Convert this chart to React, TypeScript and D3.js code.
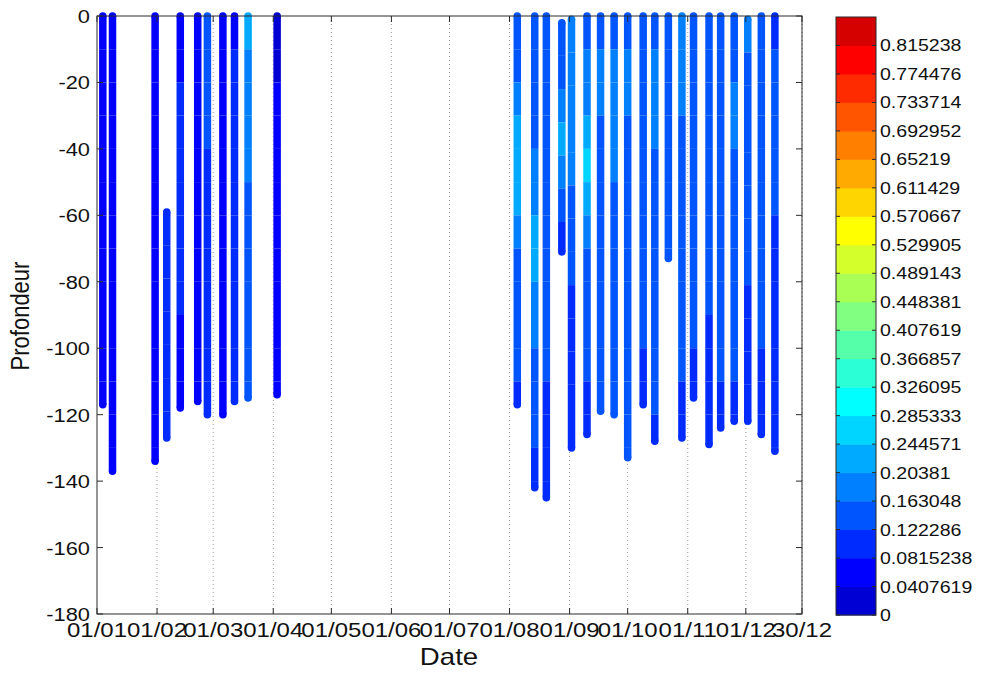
import React, { useEffect, useRef } from 'react';
import * as d3 from 'd3';

// profile dates (dd/mm, leap year 2012 fits the tick spacing)
const profileDates = [
  '2012-01-04', '2012-01-09', '2012-01-31', '2012-02-06', '2012-02-13', '2012-02-22',
  '2012-02-27', '2012-03-06', '2012-03-12', '2012-03-19', '2012-04-03',
  '2012-08-05', '2012-08-14', '2012-08-20', '2012-08-28', '2012-09-02', '2012-09-10',
  '2012-09-17', '2012-09-24', '2012-10-01', '2012-10-09', '2012-10-15', '2012-10-22',
  '2012-10-29', '2012-11-04', '2012-11-12', '2012-11-18', '2012-11-25', '2012-12-02',
  '2012-12-09', '2012-12-16',
];

// first and last depth of each profile (m)
const profileTop = [
  0, 0, 0, -59, 0, 0, 0, 0, 0, 0, 0,
  0, 0, 0, -2, -1, 0, 0, 0, 0, 0, 0, 0, 0, 0, 0, 0, 0, -1, 0, 0,
];
const profileBottom = [
  -117, -137, -134, -127, -118, -116, -120, -120, -116, -115, -114,
  -117, -142, -145, -71, -130, -126, -119, -120, -133, -117, -128, -73,
  -127, -115, -129, -124, -122, -122, -126, -131,
];

// values per 10 m bin, from the top of each profile downwards
const profileValues = [
  [0.08, 0.08, 0.08, 0.08, 0.08, 0.08, 0.08, 0.08, 0.08, 0.08, 0.08, 0.08],
  [0.08, 0.08, 0.08, 0.08, 0.08, 0.08, 0.08, 0.08, 0.08, 0.08, 0.08, 0.08, 0.08, 0.08],
  [0.07, 0.07, 0.07, 0.07, 0.07, 0.07, 0.07, 0.07, 0.07, 0.07, 0.07, 0.07, 0.07, 0.07],
  [0.09, 0.1, 0.1, 0.1, 0.1, 0.11, 0.11],
  [0.08, 0.08, 0.09, 0.1, 0.1, 0.09, 0.09, 0.09, 0.09, 0.08, 0.08, 0.08],
  [0.06, 0.07, 0.08, 0.08, 0.08, 0.08, 0.08, 0.08, 0.08, 0.08, 0.08, 0.08],
  [0.14, 0.13, 0.13, 0.13, 0.12, 0.12, 0.12, 0.12, 0.12, 0.12, 0.12, 0.12],
  [0.05, 0.06, 0.06, 0.06, 0.06, 0.06, 0.06, 0.06, 0.06, 0.06, 0.06, 0.06],
  [0.08, 0.09, 0.09, 0.09, 0.09, 0.1, 0.1, 0.1, 0.1, 0.1, 0.1, 0.1],
  [0.21, 0.2, 0.19, 0.18, 0.17, 0.16, 0.16, 0.15, 0.15, 0.14, 0.14, 0.13],
  [0.04, 0.04, 0.05, 0.05, 0.05, 0.05, 0.05, 0.05, 0.05, 0.05, 0.05, 0.05],
  [0.14, 0.16, 0.18, 0.21, 0.22, 0.21, 0.18, 0.16, 0.15, 0.14, 0.13, 0.11],
  [0.14, 0.15, 0.15, 0.16, 0.17, 0.18, 0.21, 0.23, 0.19, 0.17, 0.15, 0.14, 0.13, 0.12, 0.11],
  [0.14, 0.14, 0.15, 0.15, 0.15, 0.14, 0.14, 0.14, 0.14, 0.14, 0.13, 0.12, 0.12, 0.11, 0.1],
  [0.14, 0.16, 0.19, 0.21, 0.19, 0.16, 0.12],
  [0.18, 0.19, 0.19, 0.2, 0.18, 0.16, 0.14, 0.13, 0.12, 0.11, 0.11, 0.1, 0.1],
  [0.15, 0.17, 0.19, 0.21, 0.25, 0.22, 0.18, 0.16, 0.15, 0.14, 0.13, 0.12, 0.11],
  [0.16, 0.18, 0.17, 0.15, 0.14, 0.14, 0.14, 0.14, 0.14, 0.14, 0.13, 0.13],
  [0.16, 0.18, 0.18, 0.18, 0.17, 0.16, 0.16, 0.15, 0.15, 0.14, 0.14, 0.14],
  [0.16, 0.17, 0.17, 0.16, 0.16, 0.15, 0.15, 0.15, 0.14, 0.14, 0.14, 0.13, 0.13, 0.13],
  [0.14, 0.15, 0.16, 0.15, 0.14, 0.14, 0.14, 0.14, 0.13, 0.13, 0.12, 0.12],
  [0.16, 0.17, 0.17, 0.17, 0.16, 0.15, 0.15, 0.15, 0.15, 0.14, 0.14, 0.13, 0.12],
  [0.13, 0.15, 0.16, 0.16, 0.15, 0.14, 0.13, 0.13],
  [0.17, 0.17, 0.17, 0.16, 0.16, 0.15, 0.14, 0.14, 0.14, 0.13, 0.13, 0.12, 0.12],
  [0.13, 0.15, 0.16, 0.16, 0.15, 0.14, 0.14, 0.14, 0.13, 0.13, 0.12, 0.12],
  [0.13, 0.14, 0.14, 0.14, 0.14, 0.13, 0.13, 0.13, 0.13, 0.12, 0.12, 0.11, 0.11],
  [0.14, 0.15, 0.16, 0.16, 0.15, 0.15, 0.14, 0.14, 0.14, 0.13, 0.13, 0.12, 0.12],
  [0.14, 0.16, 0.17, 0.17, 0.16, 0.16, 0.15, 0.14, 0.14, 0.13, 0.13, 0.12, 0.11],
  [0.17, 0.16, 0.16, 0.15, 0.15, 0.14, 0.13, 0.13, 0.12, 0.12, 0.11, 0.11, 0.11],
  [0.14, 0.15, 0.16, 0.16, 0.15, 0.14, 0.14, 0.13, 0.13, 0.13, 0.12, 0.12, 0.12],
  [0.12, 0.13, 0.13, 0.13, 0.13, 0.13, 0.12, 0.12, 0.12, 0.12, 0.11, 0.11, 0.11, 0.11],
];

const dateTicks = [
  '2012-01-01', '2012-02-01', '2012-03-01', '2012-04-01', '2012-05-01', '2012-06-01',
  '2012-07-01', '2012-08-01', '2012-09-01', '2012-10-01', '2012-11-01', '2012-12-01',
  '2012-12-30',
];
const depthTicks = [0, -20, -40, -60, -80, -100, -120, -140, -160, -180];
const colorTickLabels = [
  '0', '0.0407619', '0.0815238', '0.122286', '0.163048', '0.20381', '0.244571',
  '0.285333', '0.326095', '0.366857', '0.407619', '0.448381', '0.489143', '0.529905',
  '0.570667', '0.611429', '0.65219', '0.692952', '0.733714', '0.774476', '0.815238',
];

// matlab jet(n)
const jet = (n: number) => {
  const m = Math.ceil(n / 4);
  const u = [
    ...d3.range(1, m + 1).map(i => i / m),
    ...Array(m - 1).fill(1),
    ...d3.range(m, 0, -1).map(i => i / m),
  ];
  const g0 = Math.ceil(m / 2) - (n % 4 === 1 ? 1 : 0);
  const R = Array(n).fill(0), G = Array(n).fill(0), B = Array(n).fill(0);
  u.forEach((v, k) => {
    const gi = g0 + k + 1;
    if (gi >= 1 && gi <= n) G[gi - 1] = v;
    if (gi + m >= 1 && gi + m <= n) R[gi + m - 1] = v;
    if (gi - m >= 1 && gi - m <= n) B[gi - m - 1] = v;
  });
  return d3.range(n).map(i => d3.rgb(R[i] * 255, G[i] * 255, B[i] * 255).formatHex());
};

const App: React.FC = () => {
  const svgRef = useRef<SVGSVGElement | null>(null);

  useEffect(() => {
    const svg = d3.select(svgRef.current);
    svg.selectAll('*').remove();
    const font = '"Liberation Sans", Arial, sans-serif';
    const axisColor = '#2a2a2a';

    const parse = d3.timeParse('%Y-%m-%d');
    const x = d3.scaleTime()
      .domain([parse('2012-01-01')!, parse('2012-12-30')!])
      .range([97, 802]);
    const y = d3.scaleLinear().domain([-180, 0]).range([614, 16]);

    const step = parseFloat(colorTickLabels[1]);
    const nBands = colorTickLabels.length;
    const colors = jet(nBands);
    const colorOf = (v: number) => colors[Math.min(nBands - 1, Math.floor(v / step))];

    // grid
    svg.append('g')
      .selectAll('line')
      .data(dateTicks.slice(1))
      .join('line')
      .attr('x1', d => x(parse(d)!))
      .attr('x2', d => x(parse(d)!))
      .attr('y1', y(0))
      .attr('y2', y(-180))
      .attr('stroke', '#9a9a9a')
      .attr('stroke-width', 1)
      .attr('stroke-dasharray', '1,3');

    // profiles
    const bars = svg.append('g');
    const w = 7.5;
    profileDates.forEach((d, p) => {
      const cx = x(parse(d)!);
      const top = profileTop[p];
      const bottom = profileBottom[p];
      const vals = profileValues[p];
      const nBins = Math.ceil((top - bottom) / 10);
      for (let i = 0; i < nBins; i++) {
        const v = vals[Math.min(i, vals.length - 1)];
        const d0 = top - i * 10;
        const d1 = Math.max(top - (i + 1) * 10, bottom);
        bars.append('line')
          .attr('x1', cx).attr('x2', cx)
          .attr('y1', y(d0)).attr('y2', y(d1))
          .attr('stroke', colorOf(v))
          .attr('stroke-width', w);
      }
      bars.append('circle')
        .attr('cx', cx).attr('cy', y(top)).attr('r', w / 2)
        .attr('fill', colorOf(vals[0]));
      bars.append('circle')
        .attr('cx', cx).attr('cy', y(bottom)).attr('r', w / 2)
        .attr('fill', colorOf(vals[vals.length - 1]));
    });

    // axes box
    svg.append('rect')
      .attr('x', 97).attr('y', 16)
      .attr('width', 802 - 97).attr('height', 614 - 16)
      .attr('fill', 'none')
      .attr('stroke', axisColor)
      .attr('stroke-width', 1);

    const tickLen = 6;
    const ticks = svg.append('g').attr('stroke', axisColor).attr('stroke-width', 1);
    dateTicks.forEach(d => {
      const tx = x(parse(d)!);
      ticks.append('line').attr('x1', tx).attr('x2', tx).attr('y1', 614).attr('y2', 614 - tickLen);
      ticks.append('line').attr('x1', tx).attr('x2', tx).attr('y1', 16).attr('y2', 16 + tickLen);
    });
    depthTicks.forEach(v => {
      const ty = y(v);
      ticks.append('line').attr('x1', 97).attr('x2', 97 + tickLen).attr('y1', ty).attr('y2', ty);
      ticks.append('line').attr('x1', 802).attr('x2', 802 - tickLen).attr('y1', ty).attr('y2', ty);
    });

    const fmt = d3.timeFormat('%d/%m');
    svg.append('g')
      .selectAll('text')
      .data(dateTicks)
      .join('text')
      .attr('transform', d => `translate(${x(parse(d)!)},637) scale(1.2,1)`)
      .attr('text-anchor', 'middle')
      .attr('font-family', font)
      .attr('font-size', 20)
      .attr('fill', '#111')
      .text(d => fmt(parse(d)!));

    svg.append('g')
      .selectAll('text')
      .data(depthTicks)
      .join('text')
      .attr('transform', d => `translate(90,${y(d) + 7}) scale(1.15,1)`)
      .attr('text-anchor', 'end')
      .attr('font-family', font)
      .attr('font-size', 19)
      .attr('fill', '#111')
      .text(d => String(d));

    svg.append('text')
      .attr('transform', 'translate(449,665) scale(1.2,1)')
      .attr('text-anchor', 'middle')
      .attr('font-family', font)
      .attr('font-size', 23)
      .attr('fill', '#111')
      .text('Date');

    svg.append('text')
      .attr('transform', 'translate(29,316) rotate(-90) scale(1,1.2)')
      .attr('text-anchor', 'middle')
      .attr('font-family', font)
      .attr('font-size', 22)
      .attr('fill', '#111')
      .text('Profondeur');

    // colorbar
    const cb = { x0: 836, x1: 876 };
    const cy = d3.scaleLinear().domain([0, step * nBands]).range([615, 17]);
    const cbar = svg.append('g');
    cbar.selectAll('rect')
      .data(colors)
      .join('rect')
      .attr('x', cb.x0)
      .attr('width', cb.x1 - cb.x0)
      .attr('y', (_, i) => cy((i + 1) * step))
      .attr('height', (_, i) => cy(i * step) - cy((i + 1) * step) + 0.5)
      .attr('fill', c => c);
    cbar.append('rect')
      .attr('x', cb.x0).attr('y', 17)
      .attr('width', cb.x1 - cb.x0).attr('height', 615 - 17)
      .attr('fill', 'none')
      .attr('stroke', axisColor)
      .attr('stroke-width', 1);
    colorTickLabels.forEach((lab, i) => {
      const ty = cy(i * step);
      cbar.append('line').attr('x1', cb.x0).attr('x2', cb.x0 + 4).attr('y1', ty).attr('y2', ty)
        .attr('stroke', axisColor);
      cbar.append('line').attr('x1', cb.x1).attr('x2', cb.x1 - 4).attr('y1', ty).attr('y2', ty)
        .attr('stroke', axisColor);
      cbar.append('text')
        .attr('transform', `translate(880,${ty + 6}) scale(1.15,1)`)
        .attr('font-family', font)
        .attr('font-size', 17)
        .attr('fill', '#111')
        .text(lab);
    });
  }, []);

  return (
    <svg
      ref={svgRef}
      width={990}
      height={673}
      style={{ position: 'absolute', left: 0, top: 0, background: '#fff' }}
    />
  );
};

export default App;
